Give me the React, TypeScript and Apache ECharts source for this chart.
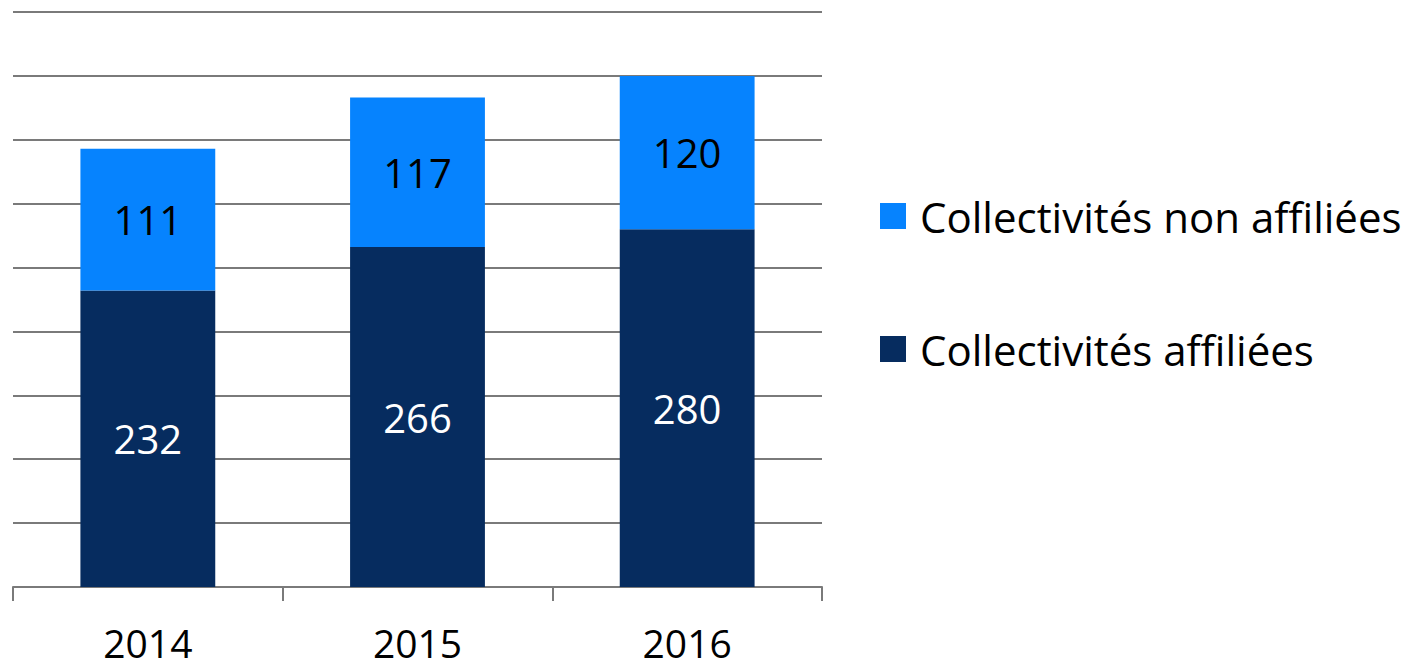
import React, { useEffect, useRef } from "react";
import * as echarts from "echarts";

const categories = ["2014", "2015", "2016"];
const affiliees = [232, 266, 280];
const nonAffiliees = [111, 117, 120];
const seriesNames = ["Collectivités affiliées", "Collectivités non affiliées"];
const legendOrder = ["Collectivités non affiliées", "Collectivités affiliées"];

const FONT = "'Open Sans', 'Noto Sans', sans-serif";

export default function App() {
  const ref = useRef<HTMLDivElement>(null);
  useEffect(() => {
    document.body.style.margin = "0";
    const chart = echarts.init(ref.current!, null, { renderer: "svg" });
    chart.setOption({
      animation: false,
      backgroundColor: "#ffffff",
      textStyle: { fontFamily: FONT },
      grid: { left: 13, right: 586, top: 12, bottom: 82, containLabel: false },
      legend: {
        orient: "vertical",
        left: 875,
        top: 190,
        itemWidth: 26,
        itemHeight: 26,
        itemGap: 91,
        icon: "rect",
        data: legendOrder,
        textStyle: { fontFamily: FONT, fontSize: 42, color: "#000", lineHeight: 40, padding: [0, 0, 0, 9] },
      },
      xAxis: {
        type: "category",
        data: categories,
        boundaryGap: true,
        axisLine: { show: true, lineStyle: { color: "#7a7a7a", width: 2 } },
        axisTick: { show: true, length: 14, lineStyle: { color: "#7a7a7a", width: 2 } },
        axisLabel: { fontFamily: FONT, fontSize: 39, lineHeight: 34, color: "#000", margin: 38 },
      },
      yAxis: {
        type: "value",
        min: 0,
        max: 450,
        interval: 50,
        axisLine: { show: false },
        axisTick: { show: false },
        axisLabel: { show: false },
        splitLine: { show: true, lineStyle: { color: "#7a7a7a", width: 2 } },
      },
      series: [
        {
          name: seriesNames[0],
          type: "bar",
          stack: "total",
          data: affiliees,
          barWidth: "50%",
          itemStyle: { color: "#062c5f" },
          label: { show: true, position: "inside", color: "#fff", fontFamily: FONT, fontSize: 40 },
        },
        {
          name: seriesNames[1],
          type: "bar",
          stack: "total",
          data: nonAffiliees,
          barWidth: "50%",
          itemStyle: { color: "#0683fe" },
          label: { show: true, position: "inside", color: "#000", fontFamily: FONT, fontSize: 40 },
        },
      ],
    });
    return () => chart.dispose();
  }, []);
  return <div ref={ref} style={{ width: 1408, height: 669 }} />;
}
